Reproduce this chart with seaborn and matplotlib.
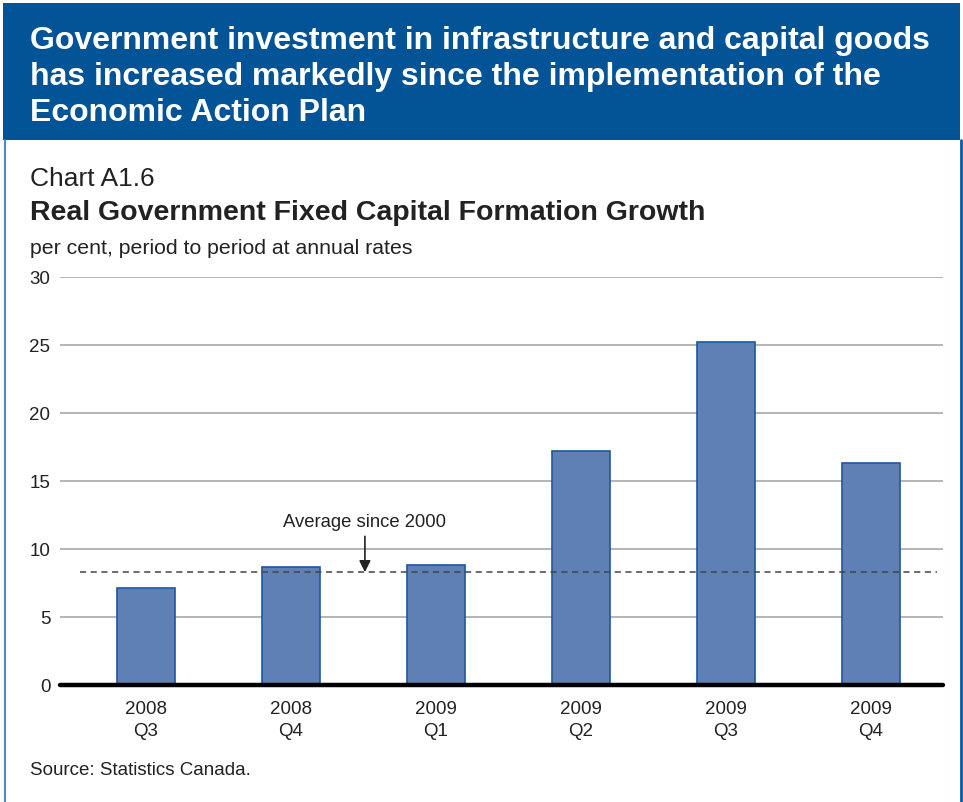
import matplotlib
matplotlib.use("Agg")
import matplotlib.pyplot as plt
import seaborn as sns
import pandas as pd
from matplotlib.patches import Rectangle
from matplotlib.lines import Line2D

# Quarterly growth in real government fixed capital formation
years = ["2008", "2008", "2009", "2009", "2009", "2009"]
quarters = ["Q3", "Q4", "Q1", "Q2", "Q3", "Q4"]
growth = [7.1, 8.7, 8.8, 17.2, 25.2, 16.3]
average_since_2000 = 8.3
y_ticks = [0, 5, 10, 15, 20, 25, 30]

labels = [f"{y}\n{q}" for y, q in zip(years, quarters)]
df = pd.DataFrame({"period": labels, "growth": growth})

sns.set_theme(style="white")
plt.rcParams["font.family"] = ["Liberation Sans", "DejaVu Sans"]

W, H = 963, 803
fig = plt.figure(figsize=(W / 100, H / 100), dpi=100)

def fx(px):
    return px / W

def fy(py):
    return 1 - py / H

# Header banner and page frame
fig.patches.append(Rectangle((fx(3), fy(141)), fx(960) - fx(3), fy(4) - fy(141),
                             transform=fig.transFigure, facecolor="#035497",
                             edgecolor="none", zorder=0))
fig.lines.append(Line2D([fx(4.5), fx(4.5)], [fy(141), 0], transform=fig.transFigure,
                        color="#4F88C0", lw=1.5))
fig.lines.append(Line2D([fx(961), fx(961)], [fy(141), 0], transform=fig.transFigure,
                        color="#0B5AA2", lw=2))

header = ("Government investment in infrastructure and capital goods\n"
          "has increased markedly since the implementation of the\n"
          "Economic Action Plan")
fig.text(fx(30), fy(77), header, color="white", fontsize=23, fontweight="bold",
         va="center", ha="left", linespacing=1.28)

fig.text(fx(30), fy(179), "Chart A1.6", fontsize=19, color="#222222",
         va="center", ha="left")
fig.text(fx(30), fy(213), "Real Government Fixed Capital Formation Growth",
         fontsize=20.5, fontweight="bold", color="#222222", va="center", ha="left")
fig.text(fx(30), fy(248), "per cent, period to period at annual rates",
         fontsize=15.3, color="#222222", va="center", ha="left")
fig.text(fx(30), fy(771), "Source: Statistics Canada.", fontsize=13.5,
         color="#222222", va="center", ha="left")

ax = fig.add_axes([fx(60), fy(686), fx(943) - fx(60), fy(278) - fy(686)])

sns.barplot(data=df, x="period", y="growth", ax=ax, color="#5F80B5",
            saturation=1, width=0.4, edgecolor="#1D58A0", linewidth=1.2,
            zorder=3)

ax.set_xlim(-0.593, 5.497)
ax.set_ylim(0, 30)
ax.set_yticks(y_ticks)
ax.set_yticklabels([str(t) for t in y_ticks], fontsize=13.5, color="#222222")
ax.tick_params(axis="y", length=0, pad=7)
ax.tick_params(axis="x", length=0, pad=11, labelsize=13.5, labelcolor="#222222")
for lbl in ax.get_xticklabels():
    lbl.set_linespacing(1.35)
ax.set_xlabel("")
ax.set_ylabel("")

for t in y_ticks[1:]:
    ax.axhline(t, color="#A0A0A0", lw=1.1, zorder=1)
ax.axhline(0, color="black", lw=3.2, zorder=5, clip_on=False)

for s in ax.spines.values():
    s.set_visible(False)

# Long-run average reference line
ax.hlines(average_since_2000, -0.455, 5.455, colors="#444444", linestyles=(0, (4, 3)),
          lw=1.1, zorder=4)
ax.annotate("Average since 2000", xy=(1.51, average_since_2000), xytext=(1.51, 12.0),
            ha="center", va="center", fontsize=13.3, color="#222222",
            arrowprops=dict(arrowstyle="-|>", color="#222222", lw=1.2,
                            mutation_scale=17, shrinkA=2, shrinkB=0))

fig.savefig("out.png", dpi=100)
